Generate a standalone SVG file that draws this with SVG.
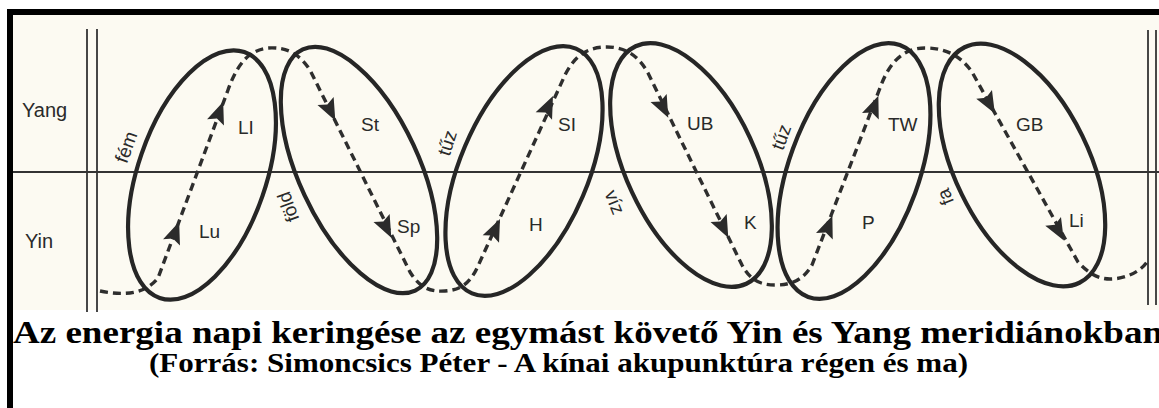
<svg xmlns="http://www.w3.org/2000/svg" width="1159" height="408" viewBox="0 0 1159 408">
<style>
.ell{fill:none;stroke:#262626;stroke-width:4.2}
.dash{fill:none;stroke:#2e2e2e;stroke-width:3.4;stroke-dasharray:8 5}
.rule{stroke:#333;stroke-width:1.8;fill:none}
.lbl{font-family:"Liberation Sans",Arial,sans-serif;font-size:19px;fill:#2a2a2a}
.side{font-family:"Liberation Sans",Arial,sans-serif;font-size:20px;fill:#2a2a2a}
.el{font-family:"Liberation Sans",Arial,sans-serif;font-size:19px;fill:#2a2a2a;text-anchor:middle}
.cap{font-family:"Liberation Serif","Times New Roman",serif;font-weight:bold;fill:#000}
.arr{fill:#2b2b2b}
</style>
<defs>
<path id="ah" d="M12,0 L-10,-9 L-6,0 L-10,9 Z"/>
</defs>
<rect x="0" y="0" width="1159" height="408" fill="#ffffff"/>
<rect x="13" y="15" width="1146" height="295" fill="#fcfaf2"/>
<g id="frame">
<rect x="7" y="9" width="1152" height="6" fill="#000"/>
<rect x="7" y="9" width="6" height="399" fill="#000"/>
</g>
<g id="grid">
<line class="rule" x1="87" y1="29" x2="87" y2="312"/>
<line class="rule" x1="97" y1="29" x2="97" y2="312"/>
<line class="rule" x1="1148" y1="30" x2="1148" y2="305"/>
<line class="rule" x1="1156" y1="30" x2="1156" y2="305"/>
<line class="rule" x1="13" y1="172" x2="1159" y2="172" stroke-width="2"/>
<text class="side" x="22" y="117">Yang</text>
<text class="side" x="25" y="248">Yin</text>
</g>
<g id="connectors">
<path class="dash" d="M100,291 C125,296 145,294 158,278 L228,90 C238,62 250,50 268,48 C285,47 298,52 310,70 L410,272 C420,288 430,292 445,291 C460,290 470,284 478,266 L565,75 C575,55 588,47 607,47 C625,47 638,55 648,73 L742,265 C750,280 760,285 775,285 C792,285 803,280 812,265 L880,88 C890,60 905,48 925,48 C945,48 960,55 972,72 L1078,262 C1088,273 1098,279 1110,279 C1125,279 1140,272 1147,262"/>
<use href="#ah" class="arr" transform="translate(175,233) rotate(-69.6)"/>
<use href="#ah" class="arr" transform="translate(219,113) rotate(-69.6)"/>
<use href="#ah" class="arr" transform="translate(330,110) rotate(63.7)"/>
<use href="#ah" class="arr" transform="translate(386,227) rotate(63.7)"/>
<use href="#ah" class="arr" transform="translate(495,230) rotate(-65.5)"/>
<use href="#ah" class="arr" transform="translate(548,107) rotate(-65.5)"/>
<use href="#ah" class="arr" transform="translate(663,107) rotate(63.9)"/>
<use href="#ah" class="arr" transform="translate(723,227) rotate(63.9)"/>
<use href="#ah" class="arr" transform="translate(828,227) rotate(-68.7)"/>
<use href="#ah" class="arr" transform="translate(874,107) rotate(-68.7)"/>
<use href="#ah" class="arr" transform="translate(989,103) rotate(60.8)"/>
<use href="#ah" class="arr" transform="translate(1058,230) rotate(60.8)"/>
</g>
<g id="n-lu-li">
<ellipse class="ell" cx="202" cy="175" rx="64" ry="130" transform="rotate(19 202 175)"/>
<text class="lbl" x="238" y="134">LI</text>
<text class="lbl" x="199" y="238">Lu</text>
</g>
<g id="n-st-sp">
<ellipse class="ell" cx="359" cy="170" rx="60" ry="133" transform="rotate(-25 359 170)"/>
<text class="lbl" x="361" y="131">St</text>
<text class="lbl" x="397" y="233">Sp</text>
</g>
<g id="n-si-h">
<ellipse class="ell" cx="524" cy="171" rx="64" ry="133" transform="rotate(23 524 171)"/>
<text class="lbl" x="558" y="131">SI</text>
<text class="lbl" x="529" y="231">H</text>
</g>
<g id="n-ub-k">
<ellipse class="ell" cx="691" cy="165" rx="65" ry="131" transform="rotate(-25 691 165)"/>
<text class="lbl" x="687" y="130">UB</text>
<text class="lbl" x="744" y="229">K</text>
</g>
<g id="n-tw-p">
<ellipse class="ell" cx="854" cy="171" rx="65" ry="134" transform="rotate(20 854 171)"/>
<text class="lbl" x="888" y="131">TW</text>
<text class="lbl" x="862" y="229">P</text>
</g>
<g id="n-gb-li">
<ellipse class="ell" cx="1022" cy="165" rx="67" ry="131" transform="rotate(-26 1022 165)"/>
<text class="lbl" x="1016" y="131">GB</text>
<text class="lbl" x="1069" y="227">Li</text>
</g>
<g id="elements">
<text class="el" transform="translate(126,147) rotate(-70)" dy=".35em">fém</text>
<text class="el" transform="translate(288,207) rotate(-110)" dy=".35em">föld</text>
<text class="el" transform="translate(447,143) rotate(-72)" dy=".35em">tűz</text>
<text class="el" transform="translate(615,202) rotate(68)" dy=".35em">víz</text>
<text class="el" transform="translate(781,137) rotate(-70)" dy=".35em">tűz</text>
<text class="el" transform="translate(945,197) rotate(-112)" dy=".35em">fa</text>
</g>
<g id="caption">
<text class="cap" x="13" y="343" font-size="32" textLength="1150" lengthAdjust="spacingAndGlyphs">Az energia napi keringése az egymást követő Yin és Yang meridiánokban</text>
<text class="cap" x="149" y="372" font-size="28" textLength="819" lengthAdjust="spacingAndGlyphs">(Forrás: Simoncsics Péter - A kínai akupunktúra régen és ma)</text>
</g>
</svg>
